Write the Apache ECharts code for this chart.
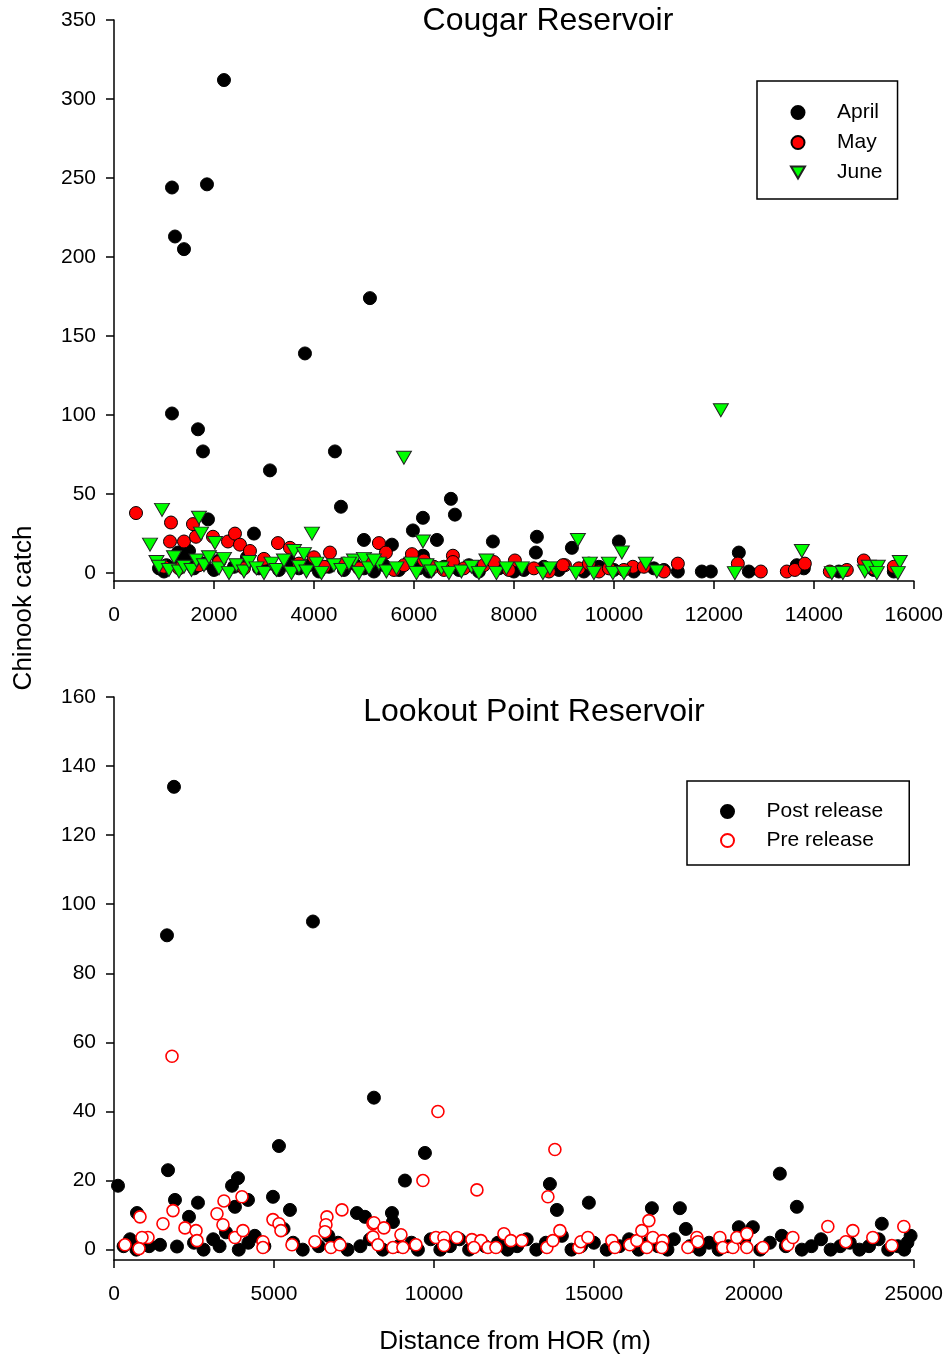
<!DOCTYPE html>
<html>
<head>
<meta charset="utf-8">
<script src="https://cdn.jsdelivr.net/npm/echarts@6/dist/echarts.min.js"></script>
<style>
html,body{margin:0;padding:0;background:#fff;}
#chart{width:946px;height:1358px;}
</style>
</head>
<body>
<div id="chart"></div>
<script>
// ---------- Cougar Reservoir ----------
const cougarXTicks = [0, 2000, 4000, 6000, 8000, 10000, 12000, 14000, 16000];
const cougarYTicks = [0, 50, 100, 150, 200, 250, 300, 350];
const april = [
  [2200,312],[1160,244],[1860,246],[1220,213],[1400,205],[3820,139],[5120,174],[1160,101],[1680,91],[1780,77],
  [3120,65],[4420,77],[4540,42],[6740,47],[6820,37],[6180,35],[5980,27],[6460,21],[5560,18],[7580,20],
  [8460,23],[8440,13],[9160,16],[10100,20],[2800,25],[1880,34],[5000,21],[12500,13],[11760,1],[11940,1],
  [12700,1],[11280,1],[13660,5],[1280,13],[1500,14],[6180,11],
  [900,3],[1000,1],[1050,5],[1300,8],[1480,10],[1600,3],[1800,6],[2000,2],[2100,8],[2400,4],[2660,10],
  [2900,3],[3100,6],[3300,2],[3500,8],[3700,3],[3900,5],[4100,1],[4300,4],[4600,2],[4800,6],[5000,3],
  [5200,1],[5400,5],[5700,2],[5900,7],[6100,3],[6300,1],[6600,4],[6900,2],[7100,5],[7300,1],[7700,3],
  [8000,1],[8200,2],[8600,4],[8900,2],[9400,1],[9700,4],[10000,2],[10400,1],[10800,3],[11000,2],
  [13800,3],[14500,1],[15200,2],[15600,1]
];
const may = [
  [440,38],[1140,32],[1120,20],[1400,20],[1580,31],[1640,23],[1980,23],[2280,20],[2420,25],[2520,18],
  [3280,19],[3520,16],[4320,13],[5300,19],[5440,13],[5960,12],[6780,11],[6780,7],[9020,5],[8020,8],
  [11280,6],[12480,6],[12940,1],[13460,1],[13620,2],[13820,6],[14320,1],[14660,2],[15000,8],[8980,5],
  [11000,1],[10380,4],[9700,1],[2720,14],
  [1000,4],[1300,3],[1700,5],[2100,7],[2600,3],[3000,9],[3700,6],[4000,10],[4200,4],[4600,6],[4900,3],
  [5100,7],[5600,2],[5800,5],[6200,8],[6400,4],[6600,2],[7000,3],[7400,5],[7600,7],[7900,2],[8400,3],
  [8700,1],[9300,3],[9500,6],[9900,3],[10200,2],[10600,4],[15200,3],[15600,4]
];
const june = [
  [12140,103],[5800,73],[960,40],[720,18],[3960,25],[1700,35],[1740,25],[2020,19],[6180,20],[9280,21],
  [13760,14],[10160,13],[15720,7],[3600,14],[3800,12],[4800,8],[5000,9],[5300,6],
  [850,7],[900,4],[1100,2],[1200,10],[1300,1],[1400,4],[1550,2],[1650,8],[1800,5],[1900,10],[2100,3],
  [2200,9],[2300,0],[2450,5],[2600,1],[2700,7],[2850,3],[3000,0],[3150,6],[3250,2],[3400,8],[3550,0],
  [3700,4],[3850,1],[4050,6],[4150,0],[4400,5],[4550,2],[4700,6],[4900,0],[5100,3],[5200,8],[5450,1],
  [5650,3],[5950,6],[6050,0],[6250,5],[6350,1],[6550,3],[6700,0],[6950,1],[7150,4],[7300,0],[7450,8],
  [7650,0],[7850,3],[8160,3],[8580,0],[8720,3],[9240,0],[9520,6],[9600,0],[9900,6],[9980,0],[10200,0],
  [10640,6],[10860,1],[12420,0],[14360,0],[14580,0],[15020,1],[15100,4],[15280,4],[15260,0],[15680,0]
];

// ---------- Lookout Point Reservoir ----------
const lookoutXTicks = [0, 5000, 10000, 15000, 20000, 25000];
const lookoutYTicks = [0, 20, 40, 60, 80, 100, 120, 140, 160];
const postRelease = [
  [1875,134],[1656,91],[6219,95],[8125,44],[5156,30],[9719,28],[9094,20],[1688,23],[125,18.5],[20813,22],
  [13625,19],[14844,13.6],[13844,11.5],[16813,12],[17688,12],[21344,12.4],[17875,6],[19531,6.5],[19969,6.5],
  [24000,7.5],[20875,4],[1906,14.4],[2625,13.6],[2344,9.5],[719,10.6],[3688,18.5],[3875,20.7],[3781,12.4],
  [4188,14.4],[4969,15.3],[5500,11.5],[7594,10.6],[7844,9.5],[8688,10.6],[8719,8],[1438,1.4],[1969,0.9],
  [300,1],[500,3],[700,0],[900,2],[1100,1],[2500,2],[2800,0],[3100,3],[3300,1],[3500,5],[3900,0],[4200,2],
  [4400,4],[4700,1],[5300,6],[5600,2],[5900,0],[6400,1],[6700,4],[7000,2],[7300,0],[7700,1],[8000,3],
  [8400,0],[8900,1],[9300,2],[9500,0],[9900,3],[10200,0],[10500,1],[10800,3],[11100,0],[11600,1],[12000,2],
  [12300,0],[12600,1],[12900,3],[13200,0],[13500,2],[14000,4],[14300,0],[14600,1],[15000,2],[15400,0],
  [15800,1],[16100,3],[16400,0],[16700,2],[17000,1],[17300,0],[17500,3],[18000,1],[18300,0],[18600,2],
  [18900,0],[19200,1],[19700,3],[20200,0],[20500,2],[21000,1],[21500,0],[21800,1],[22100,3],[22400,0],
  [22700,1],[23000,2],[23300,0],[23600,1],[23900,3],[24200,0],[24500,1],[24800,2],[24900,4],[24700,0]
];
const preRelease = [
  [1813,56],[10125,40],[13781,29],[11344,17.3],[9656,20],[13563,15.3],
  [813,9.5],[1844,11.3],[1531,7.5],[2219,6.3],[2563,5.5],[3438,14.1],[4000,15.3],[3219,10.4],[3406,7.2],
  [3781,3.5],[4031,5.5],[7125,11.5],[6656,9.5],[6625,7.2],[6594,5.2],[6281,2.3],[4969,8.7],[5156,7.5],
  [5219,5.5],[2594,2.6],[1063,3.5],[875,3.5],[344,1.4],[781,0.3],[4656,2.3],[4656,0.6],[5563,1.4],
  [6781,0.6],[7063,1.4],[8094,7.5],[8094,3.7],[8125,7.8],[8438,6.3],[8969,4.3],[8250,1.4],[8719,0.6],
  [9031,0.6],[9438,1.4],[10063,3.5],[10313,3.5],[10313,1.2],[10719,3.5],[11188,2.9],[11469,2.6],
  [11250,0.6],[11688,0.6],[11938,0.6],[12188,4.6],[12406,2.6],[12750,2.6],[13531,0.6],[13719,2.6],
  [13938,5.5],[14531,0.6],[14594,2.3],[14813,3.5],[15563,2.6],[15656,0.6],[16125,1.4],[16344,2.6],
  [16500,5.5],[16719,8.4],[16844,3.5],[17156,2.6],[16656,0.6],[17125,0.6],[17938,0.6],[18219,3.5],
  [18250,2.3],[18938,3.5],[19031,0.6],[19344,0.6],[19469,3.5],[19781,4.6],[19781,0.6],[20281,0.6],
  [21063,1.4],[21219,3.5],[22313,6.7],[22875,2.3],[23094,5.5],[23719,3.5],[24313,1.2],[24688,6.7]
];

const FONT = 'Liberation Sans, Arial, Helvetica, sans-serif';
const chart = echarts.init(document.getElementById('chart'), null, {renderer: 'canvas'});

function xAxisCfg(gridIndex, max, ticks) {
  return {
    type: 'value', gridIndex, min: 0, max,
    axisLine: {show: true, onZero: false, lineStyle: {color: '#000', width: 1.5}},
    axisTick: {show: true, length: 8, customValues: ticks, lineStyle: {color: '#000', width: 1.5}},
    axisLabel: {color: '#000', fontSize: 21, fontFamily: FONT, margin: 24, customValues: ticks,
                formatter: v => String(v)},
    splitLine: {show: false}
  };
}
function yAxisCfg(gridIndex, min, max, ticks) {
  return {
    type: 'value', gridIndex, min, max,
    axisLine: {show: true, onZero: false, lineStyle: {color: '#000', width: 1.5}},
    axisTick: {show: true, length: 8, customValues: ticks, lineStyle: {color: '#000', width: 1.5}},
    axisLabel: {color: '#000', fontSize: 21, fontFamily: FONT, margin: 18, customValues: ticks,
                formatter: v => String(v)},
    splitLine: {show: false}
  };
}

const legendText = {color: '#000', fontSize: 21, fontFamily: FONT, padding: [0, 0, 0, 27]};
const downTriangle = 'path://M0,0 L20,0 L10,17 Z';

const option = {
  backgroundColor: '#fff',
  animation: false,
  grid: [
    {left: 114, top: 20, width: 800, height: 561},
    {left: 114, top: 697, width: 800, height: 563}
  ],
  xAxis: [xAxisCfg(0, 16000, cougarXTicks), xAxisCfg(1, 25000, lookoutXTicks)],
  yAxis: [yAxisCfg(0, -5, 350, cougarYTicks), yAxisCfg(1, -3, 160, lookoutYTicks)],
  legend: [
    {
      data: [
        {name: 'April', icon: 'circle'},
        {name: 'May', icon: 'circle'},
        {name: 'June', icon: downTriangle}
      ],
      orient: 'vertical', left: 757, top: 81,
      itemWidth: 14, itemHeight: 13, itemGap: 9,
      padding: [21, 15, 16, 33],
      borderColor: '#000', borderWidth: 1.5, borderRadius: 0,
      textStyle: legendText
    },
    {
      data: [
        {name: 'Post release', icon: 'circle'},
        {name: 'Pre release', icon: 'circle'}
      ],
      orient: 'vertical', left: 687, top: 781,
      itemWidth: 14, itemHeight: 13, itemGap: 8,
      padding: [20, 26, 14, 33],
      borderColor: '#000', borderWidth: 1.5, borderRadius: 0,
      textStyle: legendText
    }
  ],
  series: [
    {name: 'April', type: 'scatter', xAxisIndex: 0, yAxisIndex: 0, data: april, clip: false,
     symbol: 'circle', symbolSize: 13, itemStyle: {color: '#000', borderColor: '#000', borderWidth: 1, opacity: 1}},
    {name: 'May', type: 'scatter', xAxisIndex: 0, yAxisIndex: 0, data: may, clip: false,
     symbol: 'circle', symbolSize: 13, itemStyle: {color: '#ff0000', borderColor: '#000', borderWidth: 1, opacity: 1}},
    {name: 'June', type: 'scatter', xAxisIndex: 0, yAxisIndex: 0, data: june, clip: false,
     symbol: 'triangle', symbolRotate: 180, symbolSize: [15, 13],
     itemStyle: {color: '#00ff00', borderColor: '#222', borderWidth: 1, opacity: 1}},
    {name: 'Post release', type: 'scatter', xAxisIndex: 1, yAxisIndex: 1, data: postRelease, clip: false,
     symbol: 'circle', symbolSize: 13, itemStyle: {color: '#000', borderColor: '#000', borderWidth: 1, opacity: 1}},
    {name: 'Pre release', type: 'scatter', xAxisIndex: 1, yAxisIndex: 1, data: preRelease, clip: false,
     symbol: 'circle', symbolSize: 12, itemStyle: {color: '#fff', borderColor: '#ff0000', borderWidth: 1.6, opacity: 1}}
  ],
  graphic: [
    {type: 'text', x: 548, y: 21, z: 100,
     style: {text: 'Cougar Reservoir', fill: '#000', font: '32px ' + FONT, align: 'center', verticalAlign: 'middle'}},
    {type: 'text', x: 534, y: 712, z: 100,
     style: {text: 'Lookout Point Reservoir', fill: '#000', font: '32px ' + FONT, align: 'center', verticalAlign: 'middle'}},
    {type: 'text', x: 24, y: 608, rotation: Math.PI / 2,
     style: {text: 'Chinook catch', fill: '#000', font: '26px ' + FONT, align: 'center', verticalAlign: 'middle'}},
    {type: 'text', x: 515, y: 1342,
     style: {text: 'Distance from HOR (m)', fill: '#000', font: '26px ' + FONT, align: 'center', verticalAlign: 'middle'}}
  ]
};
chart.setOption(option);
</script>
</body>
</html>
